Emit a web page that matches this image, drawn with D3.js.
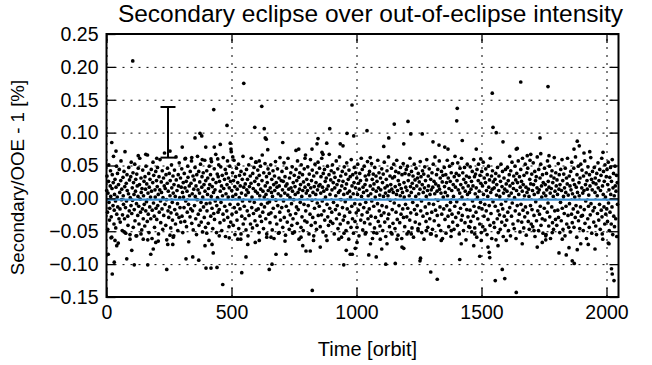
<!DOCTYPE html>
<html>
<head>
<meta charset="utf-8">
<script src="https://cdn.jsdelivr.net/npm/d3@7"></script>
<style>
  body { margin: 0; background: #fff; }
  svg { display: block; font-family: "Liberation Sans", Arial, Helvetica, sans-serif; }
</style>
</head>
<body>
<svg id="chart" width="652" height="365"></svg>
<script>
// Textes et graduations
const titleText = "Secondary eclipse over out-of-eclipse intensity";
const xLabel = "Time [orbit]";
const yLabel = "Secondary/OOE - 1 [%]";
const xTicks = [0, 500, 1000, 1500, 2000];
const yTicks = [-0.15, -0.10, -0.05, 0, 0.05, 0.10, 0.15, 0.20, 0.25];
const xDomain = [0, 2048];
const yDomain = [-0.15, 0.25];

// Niveau moyen (ligne bleue) et barre d'erreur typique : orbite, bas, haut
const meanLevel = -0.002;
const errorBar = [246, 0.062, 0.139];

// Points isolés [orbite, %]
const outliers = [
[105,.209],[21,.085],[38,.072],[374,.099],[381,.095],[354,.092],[303,.078],[397,.078],[254,.072],[23,-.115],[31,-.097],[81,-.092],
[111,-.101],[165,-.101],[241,-.108],[318,-.092],[345,-.089],[369,-.094],[398,-.106],[7,-.085],[101,-.079],[41,-.072],[177,-.085],[187,-.077],
[197,-.067],[245,-.07],[265,-.07],[549,.175],[621,.14],[429,.135],[482,.111],[593,.108],[631,.106],[635,.092],[639,.09],[705,.085],
[495,.084],[455,.082],[645,.074],[769,.075],[465,-.131],[541,-.113],[651,-.108],[662,-.1],[418,-.106],[442,-.105],[678,-.085],[718,-.085],
[558,-.089],[427,-.083],[798,-.08],[982,.142],[1151,.113],[1206,.117],[893,.106],[1042,.103],[962,.099],[989,.095],[846,.091],[842,.083],
[881,.084],[1129,.092],[823,-.14],[949,-.101],[1117,-.1],[1155,-.099],[1049,-.086],[1079,-.089],[1101,-.077],[815,-.08],[959,-.079],[983,-.085],
[995,-.076],[1189,-.076],[1543,.16],[1403,.137],[1401,.118],[1217,.098],[1263,.098],[1546,.108],[1559,.1],[1306,.086],[1330,.081],[1423,.088],
[1586,.086],[1613,.064],[1297,-.112],[1323,-.123],[1555,-.125],[1593,-.122],[1583,-.108],[1254,-.095],[1256,-.091],[1413,-.093],[1493,-.088],[1531,-.082],
[1533,-.09],[1469,-.072],[1657,.177],[1766,.17],[1734,.092],[1883,.087],[1891,.08],[1933,.071],[1910,.069],[1986,.07],[1639,.075],[1643,.076],
[1639,-.143],[2023,-.115],[2030,-.125],[2020,-.107],[1871,-.099],[1863,-.095],[1810,-.083],[1839,-.086],[1850,-.075],[1883,-.078],[1663,-.069],[1723,-.074],
[1743,-.067],[1757,-.063],[1927,-.07],[1954,-.077],[2007,-.068],
[127,.065],[157,.067],[201,.061],[314,.06],[341,.062],[383,.059],[431,.078],[418,.06],[445,.06],[498,.075],[505,.063],[598,.055],
[611,.057],[758,.073],[794,.061],[822,.075],[862,.07],[866,.067],[935,.083],[946,.08],[1055,.062],[1109,.079],[1189,.083],[1353,.078],
[1366,.075],[1479,.075],[1497,.06],[1683,.065],[1697,.067],[1737,.068],[1770,.065],[1870,.075],
[18,-.06],[34,-.064],[71,-.051],[94,-.055],[121,-.057],[138,-.054],[147,-.062],[165,-.063],[207,-.065],[254,-.056],[267,-.059],[394,-.072],
[401,-.053],[422,-.07],[451,-.057],[491,-.06],[525,-.062],[538,-.054],[565,-.07],[595,-.067],[611,-.064],[641,-.054],[658,-.059],[691,-.052],
[714,-.065],[745,-.053],[778,-.059],[785,-.072],[829,-.057],[855,-.074],[882,-.064],[929,-.062],[950,-.053],[975,-.085],[1002,-.067],[1035,-.054],
[1056,-.069],[1069,-.052],[1095,-.062],[1122,-.069],[1142,-.054],[1162,-.062],[1182,-.074],[1202,-.054],[1219,-.054],[1246,-.046],[1279,-.049],[1299,-.054],
[1339,-.064],[1379,-.049],[1419,-.069],[1453,-.044],[1473,-.054],[1499,-.064],[1526,-.074],[1566,-.072],[1599,-.064],[1710,-.049],[1757,-.057],[1783,-.052],
[1823,-.062],[1897,-.069],[1983,-.054],[2010,-.069]
];

// Nuage principal [orbite, %]
const points = [
[1,.012],[2,.034],[4,-.021],[5,-.047],[6,.008],[8,.026],[9,.051],[10,-.006],[12,-.033],[13,-.015],[15,.019],[16,.042],[17,.003],[19,-.028],[21,-.059],[22,.015],[23,.036],[26,-.011],[27,.024],[28,.064],[30,-.039],[31,-.018],[32,.006],[34,.029],[36,-.004],[37,-.045],[38,.017],[40,.049],[41,-.024],[43,.002],[44,.038],[45,-.013],[47,-.068],[48,.021],[50,-.031],
[51,.044],[53,.009],[54,-.016],[55,-.036],[57,.027],[58,.057],[60,-.002],[61,.014],[63,-.049],[64,-.025],[66,.032],[67,.004],[68,-.009],[70,.041],[72,-.031],[73,.018],[74,.071],[76,-.014],[77,-.053],[79,.023],[80,-.004],[82,.036],[83,.012],[85,-.027],[86,-.041],[88,.007],[89,.047],[91,-.019],[92,.028],[94,-.062],[95,.001],[97,.033],[98,-.011],[99,.055],
[101,-.023],[103,.016],[104,-.003],[106,.039],[107,-.044],[108,.024],[110,.006],[111,-.017],[113,.052],[114,-.034],[116,.011],[117,.029],[118,-.057],[120,-.008],[121,.037],[123,.019],[125,-.026],[126,.003],[127,.046],[129,-.012],[130,-.039],[132,.021],[133,.061],[135,-.001],[136,-.021],[138,.031],[139,.009],[141,-.048],[142,.015],[144,-.016],[145,.043],[147,-.031],[148,.004],[150,.026],
[151,-.009],[153,-.042],[154,.033],[156,.014],[157,-.019],[158,.049],[160,-.005],[161,.022],[163,-.035],[164,.066],[166,.008],[167,-.024],[169,.038],[170,-.052],[171,.017],[173,-.013],[174,.029],[176,.002],[177,-.031],[179,.044],[180,.011],[182,-.061],[183,-.018],[185,.024],[186,.055],[188,-.007],[189,.035],[191,-.027],[192,-.044],[194,.013],[195,.002],[197,.041],[198,-.015],[200,.027],
[201,-.032],[203,.018],[204,.047],[205,-.011],[207,.006],[208,-.054],[210,.033],[211,-.021],[213,.013],[214,.059],[216,-.004],[217,-.037],[219,.025],[220,.009],[222,-.016],[223,.042],[225,-.047],[226,.001],[228,.031],[229,-.026],[231,.019],[232,.069],[234,-.009],[235,.015],[237,-.041],[238,.036],[240,-.002],[241,-.063],[243,.023],[244,.046],[246,-.019],[247,.011],[249,-.029],
[251,.038],[252,-.013],[254,.004],[255,.027],[257,-.045],[258,-.022],[260,.051],[261,.016],[263,-.006],[264,-.033],[266,.034],[267,.008],[269,-.057],[270,.021],[272,.043],[273,-.017],[275,.003],[276,-.039],[278,.063],[279,.028],[281,-.024],[282,.012],[284,-.008],[285,-.049],[287,.036],[288,.019],[290,-.029],[291,.054],[293,.001],[294,-.014],[296,.031],[297,-.036],[299,.017],
[301,.045],[302,-.027],[304,.009],[305,-.052],[307,.024],[308,.002],[310,-.014],[311,.038],[313,-.035],[314,.016],[316,.061],[317,-.004],[319,.026],[320,-.043],[322,.011],[323,-.021],[325,.049],[326,.032],[328,-.009],[329,-.066],[331,.019],[332,.004],[334,-.028],[335,.041],[337,-.016],[338,.023],[340,.057],[341,-.038],[343,.007],[344,-.019],[346,.034],[347,-.048],[349,.014],
[351,.028],[352,-.011],[354,.047],[355,.003],[357,-.031],[358,.019],[360,-.055],[361,.036],[363,-.002],[364,.064],[366,.013],[367,-.024],[369,.041],[370,-.041],[372,.008],[373,.025],[375,-.018],[376,.052],[378,-.006],[379,-.036],[381,.017],[382,.033],[384,-.051],[385,.002],[387,.039],[388,-.013],[390,.021],[391,-.029],[393,.058],[394,.011],[396,-.044],[397,.027],[399,-.008],
[401,.042],[402,-.019],[404,.006],[405,.031],[407,-.038],[408,.015],[410,-.064],[411,.049],[413,.021],[414,-.007],[416,.036],[417,-.027],[419,.003],[420,.056],[422,-.015],[423,.018],[425,-.046],[426,.029],[428,.009],[429,-.023],[431,.045],[432,-.032],[434,.013],[435,-.004],[437,.067],[438,.024],[440,-.052],[441,-.011],[443,.037],[444,.001],[446,-.021],[447,.033],[449,.051],
[451,-.017],[452,.026],[454,-.037],[455,.011],[457,.048],[458,-.006],[460,.019],[461,-.049],[463,.035],[464,.004],[466,-.024],[467,.062],[469,.015],[470,-.033],[472,.029],[473,-.012],[475,.044],[476,-.058],[478,.007],[479,.038],[481,-.019],[482,.021],[484,.057],[485,-.029],[487,.002],[488,.031],[490,-.043],[491,.016],[493,.049],[494,-.009],[496,.026],[497,-.036],[499,.071],
[501,.012],[502,-.024],[504,.039],[505,.003],[507,-.041],[508,.027],[510,.058],[511,-.014],[513,.018],[514,-.055],[516,.033],[517,.006],[519,-.021],[520,.046],[522,-.033],[523,.014],[525,.024],[526,-.009],[528,.052],[529,-.046],[531,.001],[532,.035],[534,-.016],[535,.019],[537,-.062],[538,.041],[540,.008],[541,-.027],[543,.029],[544,-.004],[546,.064],[547,-.039],[549,.017],
[551,-.012],[552,.037],[554,-.031],[555,.022],[557,.005],[558,-.048],[560,.044],[561,.013],[563,-.019],[564,.029],[566,-.057],[567,.009],[569,.051],[570,-.026],[572,.018],[573,-.004],[575,.034],[576,-.039],[578,.023],[579,.061],[581,-.014],[582,.002],[584,-.045],[585,.038],[587,.015],[588,-.023],[590,.047],[591,-.006],[593,.026],[594,-.034],[596,.011],[597,.055],[599,-.018],
[601,.031],[602,-.041],[604,.008],[605,.043],[607,-.016],[608,.021],[610,-.052],[611,.035],[613,.004],[614,-.027],[616,.049],[617,.014],[619,-.009],[620,-.035],[622,.027],[623,.066],[625,-.021],[626,.011],[628,-.046],[629,.039],[631,.002],[632,-.013],[634,.053],[635,.019],[637,-.031],[638,.006],[640,.033],[641,-.059],[643,.024],[644,-.007],[646,.045],[647,.012],[649,-.024],
[651,.038],[652,-.005],[654,-.037],[655,.016],[657,.051],[658,-.022],[660,.009],[661,.029],[663,-.048],[664,.003],[666,.042],[667,-.015],[669,.021],[670,-.061],[672,.034],[673,.012],[675,-.028],[676,.056],[678,-.003],[679,.024],[681,-.039],[682,.017],[684,.045],[685,-.011],[687,.007],[688,-.053],[690,.031],[691,.019],[693,-.021],[694,.062],[696,-.033],[697,.004],[699,.027],
[701,-.014],[702,.041],[704,.013],[705,-.044],[707,.026],[708,-.004],[710,.054],[711,-.029],[713,.008],[714,.033],[716,-.056],[717,.019],[719,-.012],[720,.046],[722,.022],[723,-.036],[725,.005],[726,.061],[728,-.019],[729,.014],[731,-.047],[732,.031],[734,.001],[735,-.025],[737,.039],[738,.016],[740,-.008],[741,-.041],[743,.048],[744,.011],[746,-.031],[747,.024],[749,-.002],
[751,.035],[752,-.051],[754,.018],[755,.006],[757,-.023],[758,.044],[760,-.013],[761,.027],[763,-.038],[764,.057],[766,.009],[767,-.017],[769,.032],[770,-.062],[772,.014],[773,.039],[775,-.006],[776,.021],[778,-.044],[779,.051],[781,.003],[782,-.028],[784,.036],[785,.012],[787,-.049],[788,.025],[790,-.009],[791,.045],[793,-.034],[794,.017],[796,.066],[797,-.019],[799,.008],
[801,.029],[802,-.036],[804,.012],[805,.048],[807,-.011],[808,.021],[810,-.054],[811,.037],[813,.004],[814,-.024],[816,.059],[817,.016],[819,-.041],[820,.027],[822,-.003],[823,.043],[825,-.029],[826,.009],[828,-.064],[829,.034],[831,.018],[832,-.015],[834,.052],[835,-.037],[837,.006],[838,.024],[840,-.047],[841,.039],[843,-.007],[844,.013],[846,.055],[847,-.026],[849,.019],
[851,-.012],[852,.046],[854,.021],[855,-.043],[857,.008],[858,.033],[860,-.025],[861,.061],[863,-.004],[864,.017],[866,-.051],[867,.038],[869,.011],[870,-.019],[872,.044],[873,-.033],[875,.026],[876,.002],[878,-.057],[879,.031],[881,.014],[882,-.009],[884,.049],[885,-.028],[887,.019],[888,-.041],[890,.036],[891,.067],[893,-.015],[894,.006],[896,-.035],[897,.028],[899,.042],
[901,-.021],[902,.013],[904,.051],[905,-.038],[907,.024],[908,-.006],[910,.039],[911,-.054],[913,.016],[914,.032],[916,-.017],[917,.004],[919,.057],[920,-.031],[922,.021],[923,-.011],[925,.045],[926,-.046],[928,.009],[929,.027],[931,-.024],[932,.063],[934,.012],[935,-.039],[937,.034],[938,-.002],[940,-.059],[941,.019],[943,.041],[944,-.014],[946,.026],[947,-.033],[949,.006],
[951,.048],[952,-.027],[954,.015],[955,-.005],[957,.037],[958,-.049],[960,.022],[961,.054],[963,-.016],[964,.008],[966,-.037],[967,.029],[969,-.062],[970,.043],[972,.011],[973,-.021],[975,.033],[976,.002],[978,-.044],[979,.059],[981,-.012],[982,.019],[984,-.031],[985,.036],[987,.007],[988,-.053],[990,.024],[991,.047],[993,-.008],[994,-.035],[996,.016],[997,.039],[999,-.022],
[1001,.031],[1002,-.044],[1004,.006],[1005,.052],[1007,-.018],[1008,.023],[1010,-.057],[1011,.014],[1013,.038],[1014,-.009],[1016,.027],[1017,-.033],[1019,.061],[1020,.003],[1022,-.025],[1023,.044],[1025,-.048],[1026,.017],[1028,.009],[1029,-.014],[1031,.049],[1032,-.037],[1034,.021],[1035,.034],[1037,-.006],[1038,-.052],[1040,.028],[1041,.012],[1043,-.021],[1044,.056],[1046,-.031],[1047,.004],[1049,.036],
[1051,-.016],[1052,.041],[1054,-.039],[1055,.019],[1057,.007],[1058,-.027],[1060,.053],[1061,-.004],[1063,.029],[1064,-.061],[1066,.014],[1067,.037],[1069,-.012],[1070,.022],[1072,-.045],[1073,.047],[1075,.002],[1076,-.029],[1078,.034],[1079,.011],[1081,-.053],[1082,.026],[1084,-.008],[1085,.058],[1087,-.035],[1088,.016],[1090,.039],[1091,-.019],[1093,.005],[1094,-.042],[1096,.031],[1097,.013],[1099,-.026],
[1101,.045],[1102,-.011],[1104,.024],[1105,-.049],[1107,.037],[1108,.003],[1110,-.022],[1111,.055],[1113,-.036],[1114,.016],[1116,.008],[1117,-.058],[1119,.029],[1120,-.013],[1122,.042],[1123,.019],[1125,-.031],[1126,.004],[1128,.063],[1129,-.024],[1131,.011],[1132,-.043],[1134,.034],[1135,-.003],[1137,.021],[1138,-.052],[1140,.046],[1141,.014],[1143,-.017],[1144,.031],[1146,-.038],[1147,.009],[1149,.052],
[1151,-.007],[1152,.033],[1154,-.046],[1155,.018],[1157,.041],[1158,-.021],[1160,.006],[1161,.058],[1163,-.032],[1164,.012],[1166,-.056],[1167,.027],[1169,.039],[1170,-.011],[1172,.021],[1173,-.037],[1175,.004],[1176,.047],[1178,-.024],[1179,.015],[1181,-.061],[1182,.036],[1184,.009],[1185,-.016],[1187,.053],[1188,-.029],[1190,.024],[1191,.002],[1193,-.043],[1194,.038],[1196,-.009],[1197,.017],[1199,.044],
[1201,-.028],[1202,.012],[1204,.049],[1205,-.015],[1207,.027],[1208,-.051],[1210,.036],[1211,.004],[1213,-.033],[1214,.061],[1216,.018],[1217,-.022],[1219,.009],[1220,.041],[1222,-.045],[1223,.023],[1225,-.006],[1226,.034],[1228,-.059],[1229,.015],[1231,.052],[1232,-.017],[1234,.028],[1235,-.036],[1237,.003],[1238,.046],[1240,-.024],[1241,.019],[1243,-.011],[1244,.031],[1246,-.049],[1247,.038],[1249,.007],
[1251,.025],[1252,-.039],[1254,.014],[1255,.056],[1257,-.019],[1258,.033],[1260,-.004],[1261,-.052],[1263,.021],[1264,.042],[1266,-.027],[1267,.009],[1269,.037],[1270,-.062],[1272,.016],[1273,.048],[1275,-.013],[1276,.027],[1278,-.035],[1279,.003],[1281,.059],[1282,-.023],[1284,.012],[1285,-.044],[1287,.034],[1288,.019],[1290,-.008],[1291,.045],[1293,-.031],[1294,.006],[1296,-.054],[1297,.029],[1299,.013],
[1301,-.021],[1302,.039],[1304,-.047],[1305,.017],[1307,.052],[1308,-.009],[1310,.026],[1311,-.034],[1313,.007],[1314,.063],[1316,-.018],[1317,.022],[1319,-.057],[1320,.036],[1322,.011],[1323,-.026],[1325,.044],[1326,-.003],[1328,.019],[1329,-.041],[1331,.057],[1332,.014],[1334,-.013],[1335,.031],[1337,-.049],[1338,.008],[1340,.041],[1341,-.024],[1343,.025],[1344,-.061],[1346,.035],[1347,.002],[1349,-.016],
[1351,.047],[1352,.018],[1354,-.032],[1355,.009],[1357,.036],[1358,-.053],[1360,.024],[1361,-.011],[1363,.058],[1364,.004],[1366,-.027],[1367,.031],[1369,-.043],[1370,.015],[1372,.049],[1373,-.018],[1375,.026],[1376,-.006],[1378,-.058],[1379,.039],[1381,.012],[1382,-.024],[1384,.053],[1385,-.036],[1387,.021],[1388,.003],[1390,-.047],[1391,.033],[1393,-.012],[1394,.064],[1396,.017],[1397,-.029],[1399,.038],
[1401,-.005],[1402,.027],[1404,-.041],[1405,.054],[1407,.013],[1408,-.022],[1410,.035],[1411,-.054],[1413,.008],[1414,.046],[1416,-.015],[1417,.021],[1419,-.033],[1420,.061],[1422,.002],[1423,-.026],[1425,.039],[1426,.016],[1428,-.049],[1429,.029],[1431,-.009],[1432,.047],[1434,-.037],[1435,.011],[1437,.024],[1438,-.063],[1440,.034],[1441,-.017],[1443,.052],[1444,.006],[1446,-.028],[1447,.019],[1449,-.043],
[1451,.032],[1452,.009],[1454,-.018],[1455,.048],[1457,-.035],[1458,.014],[1460,.026],[1461,-.051],[1463,.041],[1464,-.004],[1466,.019],[1467,-.027],[1469,.059],[1470,-.012],[1472,.033],[1473,-.045],[1475,.007],[1476,.037],[1478,-.021],[1479,.016],[1481,-.059],[1482,.044],[1484,.002],[1485,-.031],[1487,.027],[1488,.052],[1490,-.014],[1491,.011],[1493,-.039],[1494,.035],[1496,-.006],[1497,.023],[1499,-.052],
[1501,.041],[1502,-.016],[1504,.019],[1505,-.043],[1507,.055],[1508,.006],[1510,-.027],[1511,.031],[1513,-.009],[1514,-.048],[1516,.024],[1517,.045],[1519,-.019],[1520,.012],[1522,-.055],[1523,.036],[1525,.003],[1526,-.032],[1528,.049],[1529,.017],[1531,-.011],[1532,.028],[1534,-.041],[1535,.061],[1537,.009],[1538,-.023],[1540,.034],[1541,-.061],[1543,.014],[1544,.042],[1546,-.005],[1547,.025],[1549,-.037],
[1551,.016],[1552,-.044],[1554,.029],[1555,-.012],[1557,.038],[1558,-.063],[1560,.005],[1561,.021],[1563,-.031],[1564,.047],[1566,-.019],[1567,-.052],[1569,.012],[1570,.034],[1572,-.025],[1573,.003],[1575,-.047],[1576,.026],[1578,.052],[1579,-.009],[1581,-.036],[1582,.018],[1584,.041],[1585,-.016],[1587,-.058],[1588,.008],[1590,.031],[1591,-.027],[1593,.014],[1594,-.041],[1596,.044],[1597,-.004],[1599,.022],
[1601,-.033],[1602,.011],[1604,.047],[1605,-.021],[1607,.027],[1608,-.049],[1610,.004],[1611,.036],[1613,-.014],[1614,.019],[1616,-.057],[1617,.042],[1619,.008],[1620,-.027],[1622,.055],[1623,-.007],[1625,.023],[1626,-.039],[1628,.015],[1629,.034],[1631,-.046],[1632,.001],[1634,.049],[1635,-.019],[1637,.028],[1638,-.061],[1640,.012],[1641,.038],[1643,-.011],[1644,.024],[1646,-.034],[1647,.057],[1649,.006],
[1651,-.024],[1652,.033],[1654,-.051],[1655,.017],[1657,.044],[1658,-.009],[1660,.026],[1661,-.036],[1663,.011],[1664,.061],[1666,-.018],[1667,.021],[1669,-.045],[1670,.035],[1672,.004],[1673,-.028],[1675,.052],[1676,-.013],[1678,.017],[1679,-.056],[1681,.039],[1682,.009],[1684,-.022],[1685,.046],[1687,-.035],[1688,.014],[1690,.003],[1691,-.047],[1693,.029],[1694,.058],[1696,-.011],[1697,.022],[1699,-.039],
[1701,.037],[1702,-.017],[1704,.012],[1705,-.043],[1707,.054],[1708,.021],[1710,-.026],[1711,.006],[1713,.041],[1714,-.058],[1716,.027],[1717,-.005],[1719,.033],[1720,-.034],[1722,.016],[1723,.063],[1725,-.019],[1726,.009],[1728,-.049],[1729,.044],[1731,.013],[1732,-.024],[1734,.031],[1735,-.012],[1737,.052],[1738,-.041],[1740,.019],[1741,.002],[1743,-.031],[1744,.036],[1746,-.053],[1747,.024],[1749,.008],
[1751,-.015],[1752,.046],[1754,-.033],[1755,.021],[1757,.004],[1758,-.055],[1760,.038],[1761,.013],[1763,-.021],[1764,.057],[1766,-.007],[1767,.026],[1769,-.042],[1770,.017],[1772,.049],[1773,-.028],[1775,.008],[1776,-.061],[1778,.034],[1779,.015],[1781,-.013],[1782,.042],[1784,-.037],[1785,.024],[1787,.003],[1788,-.047],[1790,.031],[1791,.062],[1793,-.019],[1794,.011],[1796,-.032],[1797,.039],[1799,.019],
[1801,-.041],[1802,.028],[1804,.006],[1805,-.018],[1807,.053],[1808,-.029],[1810,.014],[1811,.036],[1813,-.052],[1814,.021],[1816,-.006],[1817,.044],[1819,-.034],[1820,.012],[1822,.059],[1823,-.015],[1825,.027],[1826,-.047],[1828,.003],[1829,.037],[1831,-.023],[1832,.016],[1834,-.057],[1835,.046],[1837,.009],[1838,-.012],[1840,.031],[1841,-.039],[1843,.022],[1844,.061],[1846,-.026],[1847,.005],[1849,-.044],
[1851,.034],[1852,-.008],[1854,.019],[1855,-.051],[1857,.041],[1858,.013],[1860,-.024],[1861,.055],[1863,-.037],[1864,.007],[1866,.028],[1867,-.016],[1869,.046],[1870,-.044],[1872,.021],[1873,.002],[1875,-.029],[1876,.063],[1878,-.011],[1879,.017],[1881,-.059],[1882,.036],[1884,.009],[1885,-.021],[1887,.049],[1888,-.034],[1890,.024],[1891,.004],[1893,-.046],[1894,.031],[1896,-.013],[1897,.052],[1899,-.027],
[1901,.016],[1902,.043],[1904,-.026],[1905,.008],[1907,-.049],[1908,.034],[1910,.012],[1911,-.017],[1913,.057],[1914,-.038],[1916,.021],[1917,-.004],[1919,.039],[1920,-.061],[1922,.027],[1923,.014],[1925,-.031],[1926,.048],[1928,-.012],[1929,.005],[1931,-.044],[1932,.036],[1934,.019],[1935,-.025],[1937,.062],[1938,-.008],[1940,.029],[1941,-.053],[1943,.013],[1944,.041],[1946,-.019],[1947,.024],[1949,-.036],
[1951,.047],[1952,-.014],[1954,.009],[1955,.031],[1957,-.042],[1958,.022],[1960,-.055],[1961,.038],[1963,.004],[1964,-.023],[1966,.054],[1967,.016],[1969,-.033],[1970,.027],[1972,-.009],[1973,.044],[1975,-.047],[1976,.012],[1978,.035],[1979,-.018],[1981,.061],[1982,-.028],[1984,.019],[1985,-.062],[1987,.006],[1988,.041],[1990,-.013],[1991,.026],[1993,-.039],[1994,.051],[1996,.002],[1997,-.024],[1999,.033],
[2001,-.016],[2002,.044],[2004,-.035],[2005,.021],[2007,.055],[2008,-.007],[2010,.013],[2011,-.049],[2013,.032],[2014,-.021],[2016,.047],[2017,.006],[2019,-.039],[2020,.026],[2022,-.013],[2023,.059],[2025,-.055],[2026,.016],[2028,.038],[2029,-.027],[2031,.004],[2032,-.043],[2034,.049],[2035,.019],[2037,-.031],[2038,.011],[2040,.035],[2041,-.058],[2043,.024],[2044,-.009]
];

const svg = d3.select("#chart");
const margin = { top: 34, right: 33.5, bottom: 68, left: 106.5 };
const width = +svg.attr("width") - margin.left - margin.right;
const height = +svg.attr("height") - margin.top - margin.bottom;

const chart = svg.append("g")
  .attr("transform", `translate(${margin.left},${margin.top})`);

const x = d3.scaleLinear().domain(xDomain).range([0, width]);
const y = d3.scaleLinear().domain(yDomain).range([height, 0]);

// Grillage pointillé
chart.append("g")
  .attr("class", "grid")
  .call(d3.axisLeft(y).tickValues(yTicks).tickSize(-width).tickFormat(""))
  .call(g => g.select(".domain").remove())
  .selectAll("line")
  .style("stroke", "#000")
  .style("stroke-width", 1)
  .style("stroke-dasharray", "2,6");

chart.append("g")
  .attr("class", "grid")
  .attr("transform", `translate(0,${height})`)
  .call(d3.axisBottom(x).tickValues(xTicks).tickSize(-height).tickFormat(""))
  .call(g => g.select(".domain").remove())
  .selectAll("line")
  .style("stroke", "#000")
  .style("stroke-width", 1)
  .style("stroke-dasharray", "2,6");

// Points
chart.selectAll(".dot")
  .data(points.concat(outliers))
  .join("circle")
  .attr("class", "dot")
  .attr("cx", d => x(d[0]))
  .attr("cy", d => y(d[1]))
  .attr("r", 1.85)
  .style("fill", "#000");

// Ligne moyenne
chart.append("line")
  .attr("x1", x(xDomain[0]))
  .attr("x2", x(xDomain[1]))
  .attr("y1", y(meanLevel))
  .attr("y2", y(meanLevel))
  .style("stroke", "#3f8fcf")
  .style("stroke-width", 2.2);

// Barre d'erreur
const eb = chart.append("g").style("stroke", "#000").style("stroke-width", 2);
eb.append("line")
  .attr("x1", x(errorBar[0])).attr("x2", x(errorBar[0]))
  .attr("y1", y(errorBar[1])).attr("y2", y(errorBar[2]));
[errorBar[1], errorBar[2]].forEach(v => {
  eb.append("line")
    .attr("x1", x(errorBar[0]) - 7.5).attr("x2", x(errorBar[0]) + 7.5)
    .attr("y1", y(v)).attr("y2", y(v));
});

// Axes (graduations vers l'intérieur)
const fmtY = d3.format(".2f");
const tickStyle = g => {
  g.select(".domain").remove();
  g.selectAll("line").style("stroke", "#000").style("stroke-width", 1.3);
  g.selectAll("text")
    .style("font-size", "19.5px")
    .style("fill", "#000");
};

chart.append("g")
  .call(d3.axisLeft(y).tickValues(yTicks).tickSize(-9).tickPadding(8).tickFormat(fmtY))
  .call(tickStyle);

chart.append("g")
  .attr("transform", `translate(${width},0)`)
  .call(d3.axisRight(y).tickValues(yTicks).tickSize(-9).tickFormat(""))
  .call(tickStyle);

chart.append("g")
  .attr("transform", `translate(0,${height})`)
  .call(d3.axisBottom(x).tickValues(xTicks).tickSize(-9).tickPadding(8).tickFormat(d3.format("d")))
  .call(tickStyle);

chart.append("g")
  .call(d3.axisTop(x).tickValues(xTicks).tickSize(-9).tickFormat(""))
  .call(tickStyle);

// Cadre
chart.append("rect")
  .attr("width", width)
  .attr("height", height)
  .style("fill", "none")
  .style("stroke", "#000")
  .style("stroke-width", 2);

// Titre et libellés
svg.append("text")
  .attr("x", margin.left + width / 2 + 8)
  .attr("y", 22)
  .attr("text-anchor", "middle")
  .style("font-size", "24.5px")
  .text(titleText);

svg.append("text")
  .attr("x", margin.left + width / 2 + 5)
  .attr("y", 356)
  .attr("text-anchor", "middle")
  .style("font-size", "20px")
  .text(xLabel);

svg.append("text")
  .attr("transform", `translate(24,${margin.top + height / 2 + 12}) rotate(-90)`)
  .attr("text-anchor", "middle")
  .style("font-size", "18.7px")
  .text(yLabel);
</script>
</body>
</html>
